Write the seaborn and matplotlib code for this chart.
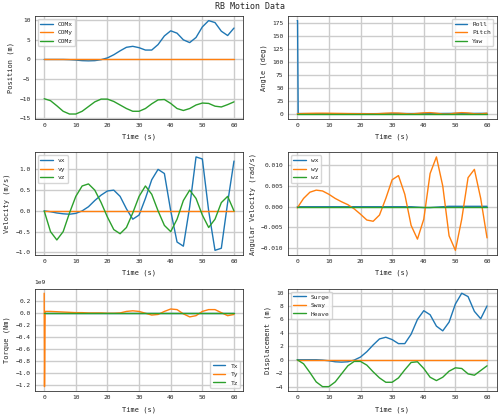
import matplotlib
matplotlib.use("Agg")
import matplotlib.pyplot as plt
import matplotlib.ticker as mticker
import seaborn as sns
import pandas as pd
import numpy as np

t = list(range(0, 61, 2))
com_x = [0,0,0,0,-0.05,-0.15,-0.3,-0.35,-0.3,-0.05,0.4,1.2,2.2,3.1,3.35,3.0,2.4,2.4,3.8,6.0,7.3,6.7,5.0,4.3,5.6,8.3,9.9,9.4,7.2,6.1,8.0]
com_y = [0]*31
com_z = [-10,-10.5,-11.8,-13.2,-13.9,-13.9,-13.2,-12,-10.8,-10.1,-10.1,-10.7,-11.6,-12.5,-13.2,-13.2,-12.5,-11.3,-10.3,-10.2,-11.2,-12.5,-13,-12.5,-11.6,-11.1,-11.2,-11.9,-12.1,-11.5,-10.8]

t_spike = [0, 0.1, 0.3] + t[1:]
roll = [180, 180, 0.5] + [0.3,0.2,0.2,0.1,0.1,0.1,0.2,0.2,0.3,0.3,0.2,0.2,0.3,0.4,0.5,0.6,0.5,0.4,0.5,0.6,0.6,0.5,0.6,0.7,0.8,0.7,0.6,0.7,0.8,0.8]
pitch = [0, 0, 0] + [0.5,0.8,1.0,1.1,1.0,0.8,0.6,0.4,0.2,0.1,0.0,-0.1,0.3,1.0,1.5,1.2,0.3,-0.3,0.6,1.8,2.2,1.0,-0.5,-0.5,1.2,2.2,1.5,0.0,-0.2,1.0]
yaw = [0, 0, 0] + [0.0]*30

vx = [0,-0.02,-0.05,-0.07,-0.08,-0.06,0,0.1,0.25,0.38,0.48,0.5,0.35,0.05,-0.2,-0.1,0.3,0.75,1.0,0.9,0.0,-0.75,-0.85,0.1,1.3,1.25,0.0,-0.95,-0.9,0.2,1.2]
vy = [0]*31
vz = [0,-0.5,-0.7,-0.5,-0.05,0.35,0.6,0.65,0.5,0.2,-0.15,-0.45,-0.55,-0.4,-0.05,0.35,0.6,0.4,0.0,-0.35,-0.5,-0.2,0.25,0.5,0.3,-0.1,-0.4,-0.2,0.2,0.35,0.0]

wx = [0,0,0,0,0,0,0,0,0,0,0,0,0,0,0,0,0,0,0,-0.0001,-0.0002,-0.0002,-0.0001,0,0.0001,0.0001,0.0001,0.0001,0.0001,0.0001,0.0001]
wy = [-0.0003,0.002,0.0035,0.004,0.0038,0.003,0.002,0.0012,0.0005,-0.0005,-0.0018,-0.0032,-0.0035,-0.002,0.002,0.0065,0.0075,0.003,-0.0045,-0.0078,-0.003,0.008,0.012,0.005,-0.007,-0.0105,-0.003,0.007,0.009,0.002,-0.0075]
wz = [0]*31

tx = [0, 0, 0] + [0.0]*30
ty = [0.32e9, -1.22e9, 0.02e9] + [v*1e9 for v in [0.02,0.015,0.01,0.005,0.0,0.0,-0.005,-0.005,-0.005,-0.01,-0.01,-0.005,0.02,0.03,0.02,-0.01,-0.04,-0.03,0.02,0.06,0.05,-0.02,-0.07,-0.05,0.02,0.05,0.05,0.0,-0.05,-0.03]]
tz = [0, 0, 0] + [0.0]*30

surge = com_x
sway = [0]*31
heave = [0,-0.6,-1.9,-3.3,-4.0,-4.0,-3.3,-2.1,-0.9,-0.25,-0.25,-0.8,-1.8,-2.7,-3.35,-3.35,-2.7,-1.5,-0.4,-0.3,-1.3,-2.6,-3.1,-2.6,-1.7,-1.2,-1.3,-2.1,-2.3,-1.6,-0.9]

sns.set_theme(style="whitegrid", palette="tab10")
plt.rcParams['font.family'] = ['DejaVu Sans Mono']
plt.rcParams.update({'font.size': 5, 'axes.edgecolor': '#333333', 'grid.color': '#cccccc'})
colors = sns.color_palette("tab10")

fig, axes = plt.subplots(3, 2, figsize=(5, 4.16), dpi=100)

def draw(ax, tt, series, ylabel, loc='upper left'):
    for i, (name, vals) in enumerate(series):
        sns.lineplot(x=tt, y=vals, ax=ax, label=name, linewidth=1, color=colors[i])
    ax.set_xlabel("Time (s)", fontsize=5)
    ax.set_ylabel(ylabel, fontsize=5)
    ax.tick_params(labelsize=4.5, length=2, pad=1)
    ax.legend(loc=loc, fontsize=4.5, frameon=True)
    for s in ax.spines.values():
        s.set_linewidth(0.6)

draw(axes[0,0], t, [("COMx", com_x), ("COMy", com_y), ("COMz", com_z)], "Position (m)")
draw(axes[0,1], t_spike, [("Roll", roll), ("Pitch", pitch), ("Yaw", yaw)], "Angle (deg)", loc='upper right')
draw(axes[1,0], t, [("vx", vx), ("vy", vy), ("vz", vz)], "Velocity (m/s)")
draw(axes[1,1], t, [("wx", wx), ("wy", wy), ("wz", wz)], "Angular Velocity (rad/s)")
draw(axes[2,0], t_spike, [("Tx", tx), ("Ty", ty), ("Tz", tz)], "Torque (Nm)", loc='lower right')
draw(axes[2,1], t, [("Surge", surge), ("Sway", sway), ("Heave", heave)], "Displacement (m)")
axes[2,0].yaxis.set_major_locator(mticker.MultipleLocator(0.2e9))
axes[2,0].yaxis.get_offset_text().set_fontsize(4.5)

fig.suptitle("RB Motion Data", fontsize=6, y=0.995)
fig.tight_layout(pad=0.5, h_pad=0.6, w_pad=0.8)
fig.savefig("out.png", dpi=100)
